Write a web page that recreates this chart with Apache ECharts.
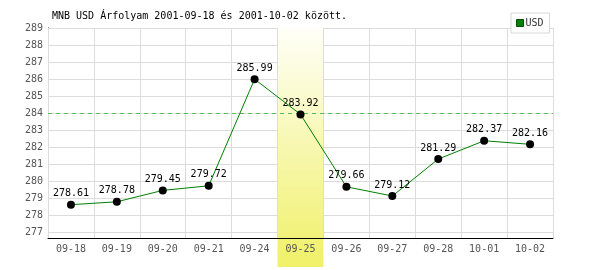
<!DOCTYPE html>
<html><head><meta charset="utf-8">
<script src="https://cdn.jsdelivr.net/npm/echarts@6/dist/echarts.min.js"></script>
<style>html,body{margin:0;padding:0;background:#fff}#c{width:600px;height:270px}</style>
</head><body><div id="c"></div>
<script>
var categories = ['09-18','09-19','09-20','09-21','09-24','09-25','09-26','09-27','09-28','10-01','10-02'];
var usdValues = [278.61, 278.78, 279.45, 279.72, 285.99, 283.92, 279.66, 279.12, 281.29, 282.37, 282.16];
var highlightCategory = '09-25';
var referenceLevel = 284;
var yMin = 276.65, yMax = 289;
var titleText = 'MNB USD Árfolyam 2001-09-18 és 2001-10-02 között.';

var mono = 'DejaVu Sans Mono';
var highlightData = categories.map(function(c){ return c === highlightCategory ? 1 : null; });
var chart = echarts.init(document.getElementById('c'), null, {renderer:'canvas'});
chart.setOption({
  animation: false,
  backgroundColor: '#fff',
  title: { text: titleText, left: 52, top: 11, padding: 0,
    textStyle: { fontFamily: mono, fontSize: 10, fontWeight: 'normal', color: '#000' } },
  legend: { data: [{ name: 'USD', itemStyle: { color: '#008000', borderColor: '#005000', borderWidth: 1 } }],
    left: 511, top: 13, padding: [5,6,5,5], itemWidth: 7, itemHeight: 7,
    icon: 'rect', itemGap: 2, backgroundColor: '#fff', borderColor: '#d8d8d8', borderWidth: 1,
    textStyle: { fontFamily: mono, fontSize: 10, color: '#333', padding: [0,0,0,-3] } },
  grid: [
    { left: 48, right: 47, top: 28, bottom: 32 },
    { left: 48, right: 47, top: 28, bottom: 3 }
  ],
  xAxis: [
    { type: 'category', gridIndex: 0, data: categories, z: 5,
      axisLine: { lineStyle: { color: '#000', width: 1 } },
      axisTick: { show: false },
      splitLine: { show: true, lineStyle: { color: '#dcdcdc' } },
      axisLabel: { fontFamily: mono, fontSize: 10, color: '#555', margin: 6 } },
    { type: 'category', gridIndex: 1, data: categories, show: false }
  ],
  yAxis: [
    { type: 'value', gridIndex: 0, min: yMin, max: yMax, splitNumber: 12, z: 0,
      axisLine: { show: true, lineStyle: { color: '#000' } },
      axisTick: { show: false },
      splitLine: { lineStyle: { color: '#dcdcdc' } },
      axisLabel: { fontFamily: mono, fontSize: 10, color: '#555', margin: 5,
        formatter: function(v){ return Math.abs(v - Math.round(v)) < 1e-6 ? String(Math.round(v)) : ''; } } },
    { type: 'value', gridIndex: 1, min: 0, max: 1, show: false }
  ],
  series: [
    { name: 'ref', type: 'line', xAxisIndex: 0, yAxisIndex: 0, z: 1, data: [], symbol: 'none',
      markLine: { silent: true, symbol: 'none', label: { show: false },
        lineStyle: { type: [4,4], color: '#5cb85c', width: 1 },
        data: [{ yAxis: referenceLevel }] } },
    { name: 'band', type: 'bar', xAxisIndex: 1, yAxisIndex: 1, z: 2, barWidth: '100%',
      data: highlightData, silent: true,
      itemStyle: { color: new echarts.graphic.LinearGradient(0,0,0,1,[
        { offset: 0, color: '#fffff8' }, { offset: 1, color: '#f0f068' }]) } },
    { name: 'USD', type: 'line', xAxisIndex: 0, yAxisIndex: 0, z: 6, data: usdValues,
      symbol: 'circle', symbolSize: 8,
      lineStyle: { color: '#008000', width: 1 },
      itemStyle: { color: '#000' },
      label: { show: true, position: 'top', distance: 2, fontFamily: mono, fontSize: 10, color: '#000',
        formatter: function(p){ return p.value.toFixed(2); } } }
  ]
});
</script></body></html>
